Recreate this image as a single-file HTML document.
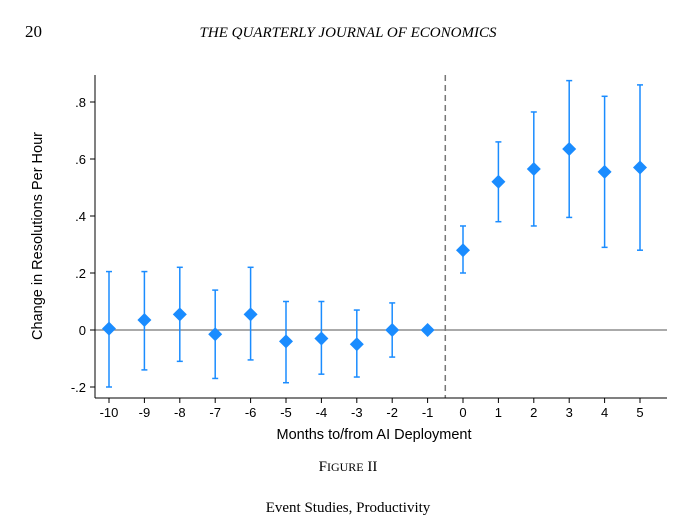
<!DOCTYPE html>
<html><head><meta charset="utf-8"><style>
body{margin:0;background:#fff;width:688px;height:521px;overflow:hidden;}
svg{display:block;}
</style></head><body>
<svg width="688" height="521" xmlns="http://www.w3.org/2000/svg">
<text x="25" y="37" font-family="Liberation Serif, serif" font-size="17">20</text>
<text x="348" y="37" text-anchor="middle" font-family="Liberation Serif, serif" font-style="italic" font-size="15">THE QUARTERLY JOURNAL OF ECONOMICS</text>
<g id="chart"></g>
<text x="348" y="471" text-anchor="middle" font-family="Liberation Serif, serif" font-size="15">F<tspan font-size="12">IGURE</tspan> II</text>
<text x="348" y="512" text-anchor="middle" font-family="Liberation Serif, serif" font-size="15">Event Studies, Productivity</text>
</svg>
<script>
const months=[-10,-9,-8,-7,-6,-5,-4,-3,-2,-1,0,1,2,3,4,5];
const estimates=[0.005,0.035,0.055,-0.015,0.055,-0.04,-0.03,-0.05,0,0,0.28,0.52,0.565,0.635,0.555,0.57];
const lower=[-0.20,-0.14,-0.11,-0.17,-0.105,-0.185,-0.155,-0.165,-0.095,0,0.20,0.38,0.365,0.395,0.29,0.28];
const upper=[0.205,0.205,0.22,0.14,0.22,0.10,0.10,0.07,0.095,0,0.365,0.66,0.765,0.875,0.82,0.86];
const yTicks=[-0.2,0,0.2,0.4,0.6,0.8];
const yTickLabels=["-.2","0",".2",".4",".6",".8"];
const NS='http://www.w3.org/2000/svg';
const g=document.getElementById('chart');
const xs=m=>463+(m)*35.4;
const ys=v=>330-285*v;
function mk(t,a){const e=document.createElementNS(NS,t);for(const k in a)e.setAttribute(k,a[k]);g.appendChild(e);return e;}
const L=95,R=667,T=75,B=398;
let e;
e=mk('line',{x1:L,y1:ys(0),x2:R,y2:ys(0),stroke:'#777','stroke-width':1.3});


e=mk('line',{x1:(xs(-1)+xs(0))/2,y1:T,x2:(xs(-1)+xs(0))/2,y2:B,stroke:'#777','stroke-width':1.5,'stroke-dasharray':'6,4'});


e=mk('line',{x1:L,y1:T,x2:L,y2:B,stroke:'#000','stroke-width':1});


e=mk('line',{x1:L,y1:B,x2:R,y2:B,stroke:'#000','stroke-width':1});


yTicks.forEach((v,i)=>{
 let t=mk('line',{x1:L-5,y1:ys(v),x2:L,y2:ys(v),stroke:'#000'});
 
 
 let s=mk('text',{x:L-9,y:ys(v)+5,'text-anchor':'end','font-family':'Liberation Sans, sans-serif','font-size':13});
 s.textContent=yTickLabels[i];
 
 
});
months.forEach((m,i)=>{
 const x=xs(m);
 let t=mk('line',{x1:x,y1:B,x2:x,y2:B+5,stroke:'#000'});
 
 
 let s=mk('text',{x:x,y:B+19,'text-anchor':'middle','font-family':'Liberation Sans, sans-serif','font-size':13});
 s.textContent=m;
 
 
 const c='#1a8cff';
 let ci=mk('line',{x1:x,y1:ys(lower[i]),x2:x,y2:ys(upper[i]),stroke:c,'stroke-width':1.5});
 
 
 [lower[i],upper[i]].forEach(v=>{let cap=mk('line',{x1:x-3,y1:ys(v),x2:x+3,y2:ys(v),stroke:c,'stroke-width':1.5});
 
 });
 const y=ys(estimates[i]),d=7;
 let p=mk('polygon',{points:`${x},${y-d} ${x+d},${y} ${x},${y+d} ${x-d},${y}`,fill:c});
 
 
});
e=mk('text',{x:374,y:439,'text-anchor':'middle','font-family':'Liberation Sans, sans-serif','font-size':14.5});
e.textContent='Months to/from AI Deployment';


e=mk('text',{x:42,y:236,'text-anchor':'middle',transform:'rotate(-90 42 236)','font-family':'Liberation Sans, sans-serif','font-size':14.5});
e.textContent='Change in Resolutions Per Hour';


</script>
</body></html>
